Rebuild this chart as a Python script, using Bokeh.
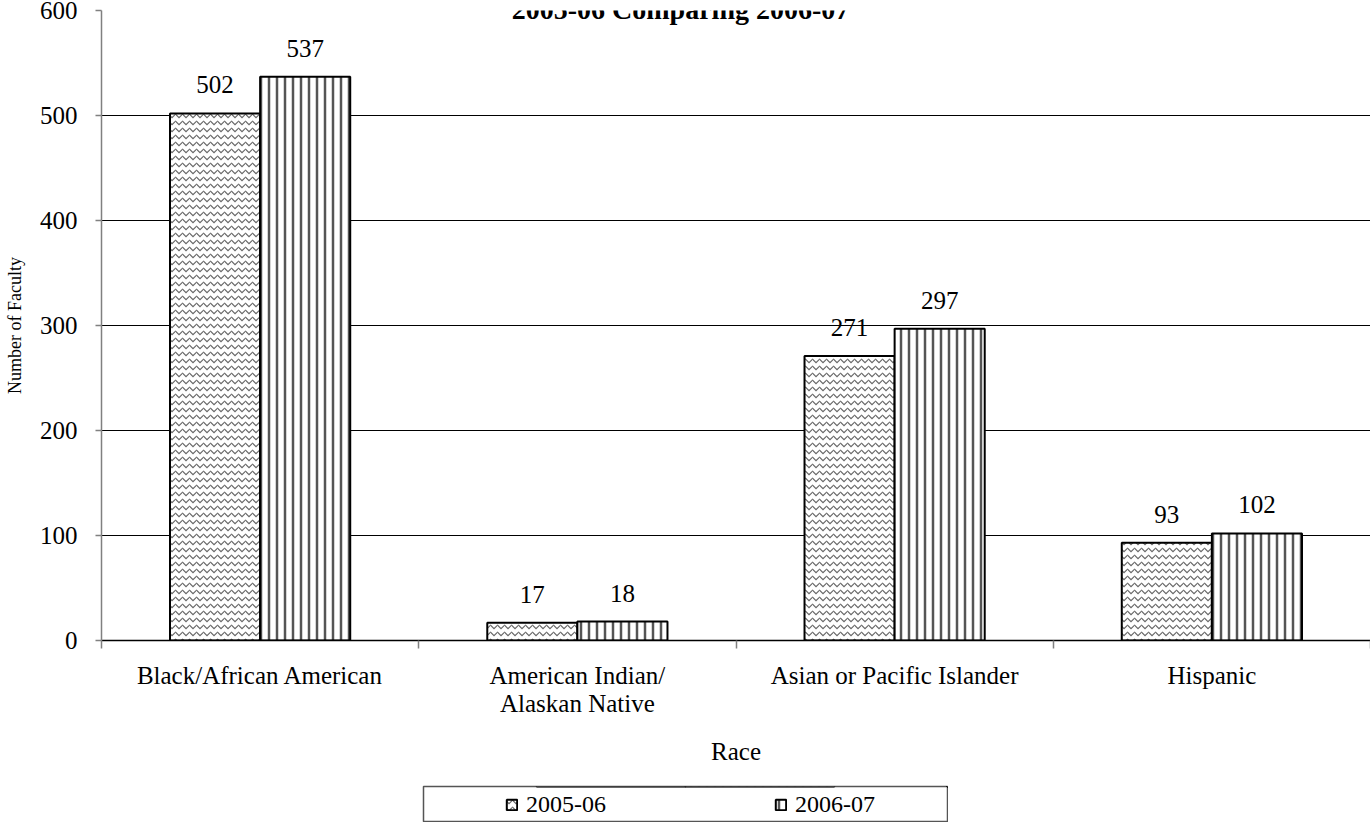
from bokeh.plotting import figure
from bokeh.layouts import column
from bokeh.models import (ColumnDataSource, FixedTicker, Range1d, LabelSet, Label,
                          Legend, LegendItem)
from bokeh.core.properties import value
from bokeh.embed import file_html
from bokeh.resources import INLINE

# ---- data ----
categories = ["Black/African American", "American Indian/\nAlaskan Native",
              "Asian or Pacific Islander", "Hispanic"]
series_names = ["2005-06", "2006-07"]
values_2005 = [502, 17, 271, 93]
values_2006 = [537, 18, 297, 102]
y_ticks = [0, 100, 200, 300, 400, 500, 600]
title_text = "2005-06 Comparing 2006-07"
x_title = "Race"
y_title = "Number of Faculty"

FONT = "Liberation Serif"
n = len(categories)
bw = 0.284

p = figure(width=1370, height=780, output_backend="svg", toolbar_location=None,
           x_range=Range1d(0, n), y_range=Range1d(y_ticks[0], y_ticks[-1]),
           min_border_left=101, min_border_right=0, min_border_top=10,
           min_border_bottom=140)
p.margin = (0, 0, 0, 0)
p.outline_line_color = None
p.background_fill_color = "white"
p.border_fill_color = "white"
p.xgrid.visible = False
p.ygrid.ticker = FixedTicker(ticks=y_ticks[1:-1])
p.ygrid.grid_line_color = "black"
p.ygrid.grid_line_width = 1

centers = [i + 0.5 for i in range(n)]
src = ColumnDataSource(dict(
    x1=[c - bw / 2 for c in centers], x2=[c + bw / 2 for c in centers],
    v1=values_2005, v2=values_2006,
    t1=[str(v) for v in values_2005], t2=[str(v) for v in values_2006]))

style1 = dict(fill_color="white", line_color="black", line_width=2,
              hatch_pattern="horizontal_wave", hatch_color="#666666",
              hatch_scale=7, hatch_weight=1.2)
style2 = dict(fill_color="white", line_color="black", line_width=2,
              hatch_pattern="vertical_line", hatch_color="#555555",
              hatch_scale=8, hatch_weight=2.5)

r1 = p.vbar(x="x1", top="v1", bottom=0, width=bw, source=src, **style1)
r2 = p.vbar(x="x2", top="v2", bottom=0, width=bw, source=src, **style2)

for xcol, ycol, tcol in (("x1", "v1", "t1"), ("x2", "v2", "t2")):
    p.add_layout(LabelSet(x=xcol, y=ycol, text=tcol, source=src,
                          text_align="center", text_baseline="alphabetic",
                          y_offset=20, text_font=value(FONT),
                          text_font_size="25px", text_color="black"))

# x axis
xa = p.xaxis[0]
xa.ticker = FixedTicker(ticks=centers, minor_ticks=list(range(n + 1)))
xa.major_label_overrides = {c: cat for c, cat in zip(centers, categories)}
xa.major_tick_out = 0
xa.major_tick_in = 0
xa.minor_tick_out = 8
xa.minor_tick_in = 0
xa.minor_tick_line_color = "#808080"
xa.minor_tick_line_width = 1.5
xa.axis_line_color = "black"
xa.axis_line_width = 1.5
xa.major_label_text_font = FONT
xa.major_label_text_font_size = "25px"
xa.major_label_text_color = "black"
xa.major_label_text_baseline = "middle"
xa.major_label_text_line_height = 1.05
xa.major_label_standoff = 13
xa.axis_label = x_title
xa.axis_label_text_font = FONT
xa.axis_label_text_font_size = "25px"
xa.axis_label_text_font_style = "normal"
xa.axis_label_text_color = "black"
xa.axis_label_standoff = 18

# y axis
ya = p.yaxis[0]
ya.ticker = FixedTicker(ticks=y_ticks)
ya.major_tick_out = 6
ya.major_tick_in = 0
ya.minor_tick_out = 0
ya.minor_tick_in = 0
ya.major_tick_line_color = "#808080"
ya.major_tick_line_width = 1.5
ya.axis_line_color = "#808080"
ya.axis_line_width = 1.5
ya.major_label_text_font = FONT
ya.major_label_text_font_size = "25px"
ya.major_label_text_color = "black"
ya.major_label_standoff = 18
ya.axis_label = y_title
ya.axis_label_text_font = FONT
ya.axis_label_text_font_size = "18px"
ya.axis_label_text_font_style = "normal"
ya.axis_label_text_color = "black"
ya.axis_label_standoff = 12

# title (cut at the top as in the original)
p.add_layout(Label(x=579, y=631, x_units="screen", y_units="screen",
                   text=title_text, text_align="center",
                   text_baseline="alphabetic", text_font=FONT,
                   text_font_size="28px", text_font_style="bold",
                   text_color="black"))

# legend: a small boxed panel below the chart
leg = figure(width=526, height=37, output_backend="svg", toolbar_location=None,
             x_range=Range1d(0, 1), y_range=Range1d(-10, -5),
             x_axis_location=None, y_axis_location=None,
             min_border_left=1, min_border_right=1, min_border_top=1,
             min_border_bottom=1)
leg.margin = (5, 0, 0, 422)
leg.grid.visible = False
leg.outline_line_color = "#555555"
leg.outline_line_width = 1.5
leg.background_fill_color = "white"
leg.border_fill_color = "white"
for fig in (p, leg):
    try:
        fig.frame_align = False
    except Exception:
        pass
lr1 = leg.vbar(x="x1", top="v1", bottom=0, width=bw, source=src, **style1)
lr2 = leg.vbar(x="x2", top="v2", bottom=0, width=bw, source=src, **style2)
legend = Legend(items=[LegendItem(label=series_names[0], renderers=[lr1]),
                       LegendItem(label=series_names[1], renderers=[lr2])],
                orientation="horizontal", location=(82, 3), padding=0,
                spacing=168, glyph_width=13, glyph_height=13,
                label_standoff=8, label_text_font=FONT,
                label_text_font_size="24px", label_text_color="black",
                border_line_alpha=0, background_fill_alpha=0, margin=0)
leg.add_layout(legend)

layout = column(p, leg, spacing=0)
open("out.html", "w").write(file_html(layout, INLINE))
